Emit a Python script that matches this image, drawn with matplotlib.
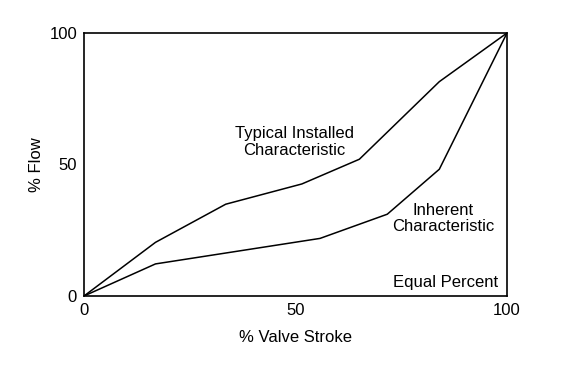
import matplotlib.pyplot as plt

plt.rcParams['font.family'] = ['Liberation Sans', 'DejaVu Sans']

# === DATA ===
stroke_installed = [0, 16.9, 33.5, 51.5, 65.1, 84.0, 100]
flow_installed = [0, 20.4, 34.9, 42.6, 52.0, 81.5, 100]

stroke_inherent = [0, 16.9, 55.8, 71.7, 84.0, 100]
flow_inherent = [0, 12.2, 21.9, 31.1, 48.2, 100]

ticks = [0, 50, 100]

# === PLOT ===
fig = plt.figure(figsize=(5.75, 3.67), dpi=100)
ax = fig.add_axes([84 / 575, 1 - 296 / 367, 423 / 575, 263 / 367])

ax.plot(stroke_installed, flow_installed, color='black', linewidth=1.1)
ax.plot(stroke_inherent, flow_inherent, color='black', linewidth=1.1)

ax.set_xlim(0, 100)
ax.set_ylim(0, 100)
ax.set_xticks(ticks)
ax.set_yticks(ticks)
ax.tick_params(length=0, labelsize=12, pad=5)
for s in ax.spines.values():
    s.set_linewidth(1.2)

ax.set_xlabel("% Valve Stroke", fontsize=12, labelpad=9)
ax.set_ylabel("% Flow", fontsize=12, labelpad=4)

ax.text(49.8, 58.5, "Typical Installed\nCharacteristic", ha='center', va='center',
        fontsize=12, linespacing=1.15)
ax.text(84.9, 29.5, "Inherent\nCharacteristic", ha='center', va='center',
        fontsize=12, linespacing=1.15)
ax.text(97.8, 5, "Equal Percent", ha='right', va='center', fontsize=12)

fig.savefig("out.png", dpi=100)
